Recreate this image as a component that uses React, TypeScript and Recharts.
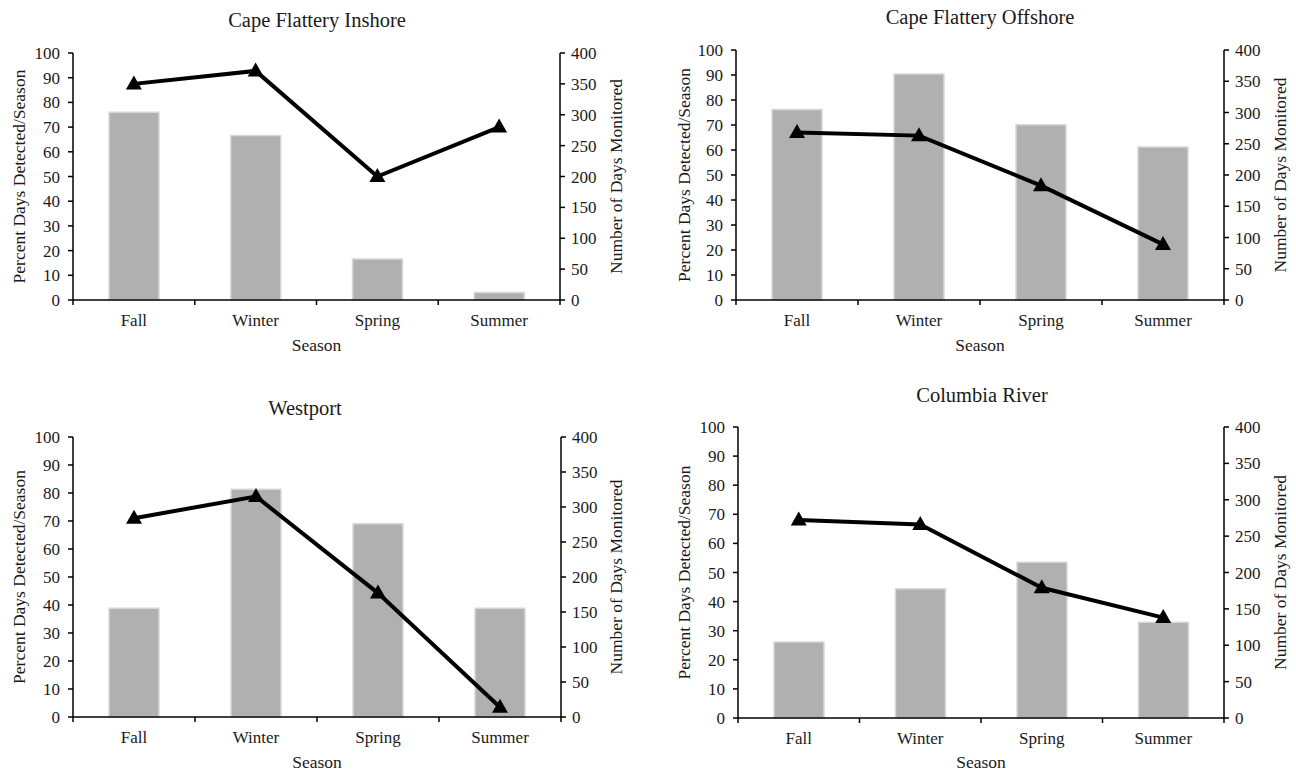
import { ComposedChart, Bar, Line, XAxis, YAxis } from "recharts";

const seasons = ["Fall", "Winter", "Spring", "Summer"];

const inshorePct = [76, 66.6, 16.6, 3];
const inshoreDays = [350, 371, 200, 280];

const offshorePct = [76.2, 90.4, 70.1, 61.2];
const offshoreDays = [268, 263, 183, 89];

const westportPct = [38.8, 81.3, 69, 38.8];
const westportDays = [284, 315, 177, 14];

const columbiaPct = [26.1, 44.4, 53.5, 32.9];
const columbiaDays = [272, 266, 179, 138];

const pctTicks = [0, 10, 20, 30, 40, 50, 60, 70, 80, 90, 100];
const dayTicks = [0, 50, 100, 150, 200, 250, 300, 350, 400];

const FONT = "'Liberation Serif', 'Times New Roman', serif";
const INK = "#1a1a1a";
const TICK_FS = 17;
const LABEL_FS = 17.5;

const build = (pct: number[], days: number[]) =>
  seasons.map((s, i) => ({ season: s, pct: pct[i], days: days[i] }));

const Triangle = (props: any) => {
  const { cx, cy } = props;
  if (cx == null || cy == null) return null;
  return (
    <polygon
      points={`${cx},${cy - 8.5} ${cx - 8},${cy + 5.5} ${cx + 8},${cy + 5.5}`}
      fill="#000"
    />
  );
};

const makeTick = (band: number) => (props: any) => {
  const { x, y, payload, index } = props;
  const last = index === seasons.length - 1;
  return (
    <g>
      <line x1={x - band / 2} x2={x - band / 2} y1={y} y2={y + 5} stroke="#000" strokeWidth={1.5} />
      {last && (
        <line x1={x + band / 2} x2={x + band / 2} y1={y} y2={y + 5} stroke="#000" strokeWidth={1.5} />
      )}
      <text x={x} y={y + 20} textAnchor="middle" dominantBaseline="central" fill={INK} fontSize={TICK_FS} fontFamily={FONT}>
        {payload.value}
      </text>
    </g>
  );
};

type PanelProps = {
  title: string;
  pct: number[];
  days: number[];
  left: number;
  top: number;
  height: number;
  plotLeft: number;
  plotRight: number;
  plotTop: number;
  plotBottom: number;
  titleX: number;
  titleY: number;
  leftLabelX: number;
  rightLabelX: number;
  seasonY: number;
};

function Panel(p: PanelProps) {
  const width = 648;
  const xAxisH = 60;
  const band = (p.plotRight - p.plotLeft) / seasons.length;
  return (
    <div style={{ position: "absolute", left: p.left, top: p.top, width, height: p.height }}>
      <div
        style={{
          position: "absolute",
          left: p.titleX - 200,
          width: 400,
          top: p.titleY - 12,
          textAlign: "center",
          fontSize: 20.5,
          lineHeight: "24px",
          color: INK,
          fontFamily: FONT,
        }}
      >
        {p.title}
      </div>
      <ComposedChart
        width={width}
        height={p.height}
        data={build(p.pct, p.days)}
        margin={{ top: p.plotTop, right: 0, left: 0, bottom: p.height - p.plotBottom - xAxisH }}
        style={{ fontFamily: FONT }}
      >
        <XAxis
          dataKey="season"
          height={xAxisH}
          tickLine={false}
          tickSize={0}
          tickMargin={0}
          axisLine={{ stroke: "#000", strokeWidth: 1.5 }}
          tick={makeTick(band)}
          interval={0}
          label={{
            value: "Season",
            position: "insideTop",
            offset: p.seasonY - p.plotBottom - 6,
            fill: INK,
            fontSize: LABEL_FS,
          }}
        />
        <YAxis
          yAxisId="left"
          width={p.plotLeft}
          domain={[0, 100]}
          ticks={pctTicks}
          interval={0}
          tickSize={5}
          tickMargin={8}
          tickLine={{ stroke: "#000", strokeWidth: 1.5 }}
          axisLine={{ stroke: "#000", strokeWidth: 1.5 }}
          tick={{ fill: INK, fontSize: TICK_FS }}
          label={{
            value: "Percent Days Detected/Season",
            angle: -90,
            position: "insideLeft",
            offset: p.leftLabelX,
            fill: INK,
            fontSize: LABEL_FS,
            style: { textAnchor: "middle" },
          }}
        />
        <YAxis
          yAxisId="right"
          orientation="right"
          width={width - p.plotRight}
          domain={[0, 400]}
          ticks={dayTicks}
          interval={0}
          tickSize={5}
          tickMargin={6}
          tickLine={{ stroke: "#000", strokeWidth: 1.5 }}
          axisLine={{ stroke: "#000", strokeWidth: 1.5 }}
          tick={{ fill: INK, fontSize: TICK_FS }}
          label={{
            value: "Number of Days Monitored",
            angle: -90,
            position: "insideRight",
            offset: width - p.rightLabelX,
            fill: INK,
            fontSize: LABEL_FS,
            style: { textAnchor: "middle" },
          }}
        />
        <Bar
          yAxisId="left"
          dataKey="pct"
          barSize={50}
          fill="#b0b0b0"
          stroke="#d8d8d8"
          strokeWidth={1.5}
          isAnimationActive={false}
        />
        <Line
          yAxisId="right"
          dataKey="days"
          type="linear"
          stroke="#000"
          strokeWidth={4}
          dot={<Triangle />}
          activeDot={false}
          isAnimationActive={false}
        />
      </ComposedChart>
    </div>
  );
}

export default function App() {
  return (
    <div
      style={{
        position: "absolute",
        left: 0,
        top: 0,
        width: 1296,
        height: 773,
        background: "#fff",
        fontFamily: FONT,
      }}
    >
      <Panel
        title="Cape Flattery Inshore"
        pct={inshorePct}
        days={inshoreDays}
        left={0}
        top={0}
        height={386}
        plotLeft={73}
        plotRight={560}
        plotTop={53}
        plotBottom={300}
        titleX={317}
        titleY={20}
        leftLabelX={19}
        rightLabelX={616}
        seasonY={345}
      />
      <Panel
        title="Cape Flattery Offshore"
        pct={offshorePct}
        days={offshoreDays}
        left={648}
        top={0}
        height={386}
        plotLeft={88}
        plotRight={576}
        plotTop={50}
        plotBottom={300}
        titleX={332}
        titleY={17}
        leftLabelX={36}
        rightLabelX={632}
        seasonY={345}
      />
      <Panel
        title="Westport"
        pct={westportPct}
        days={westportDays}
        left={0}
        top={386}
        height={387}
        plotLeft={73}
        plotRight={561}
        plotTop={51}
        plotBottom={331}
        titleX={305}
        titleY={22}
        leftLabelX={19}
        rightLabelX={616}
        seasonY={376}
      />
      <Panel
        title="Columbia River"
        pct={columbiaPct}
        days={columbiaDays}
        left={648}
        top={386}
        height={387}
        plotLeft={90}
        plotRight={576}
        plotTop={41}
        plotBottom={332}
        titleX={334}
        titleY={9}
        leftLabelX={36}
        rightLabelX={632}
        seasonY={376}
      />
    </div>
  );
}
